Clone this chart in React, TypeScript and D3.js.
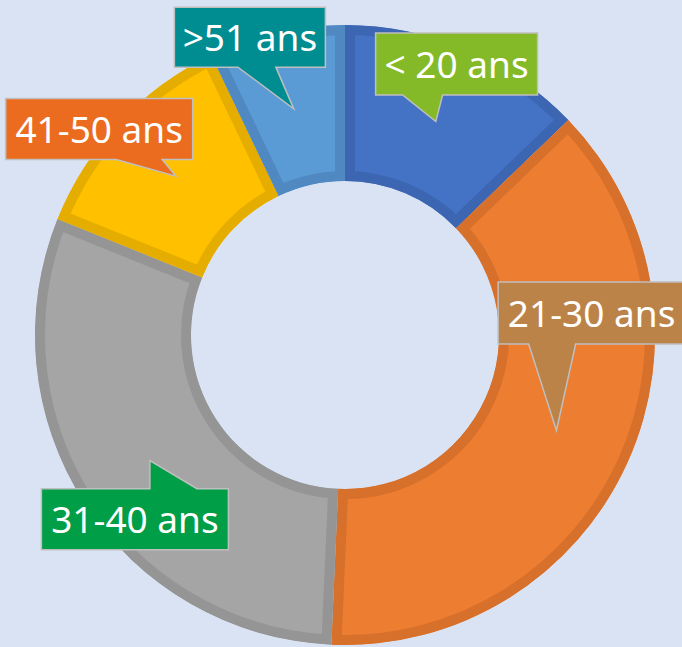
import React from "react";
import * as d3 from "d3";

// ---- data ----
const categories = ["< 20 ans", "21-30 ans", "31-40 ans", "41-50 ans", ">51 ans"];
const values = [12.8, 37.9, 30.4, 11.8, 7.1];
const sliceColors = ["#4472C4", "#ED7D31", "#A5A5A5", "#FFC000", "#5B9BD5"];
const sliceBorders = ["#3d66b2", "#d6702b", "#959595", "#e5ad00", "#5089c2"];
const labelColors = ["#84ba27", "#bc8349", "#009e47", "#ec6c1f", "#008d92"];

// ---- callout layout (offset of box centre from slice centroid, box size, pointer base rel. to box centre) ----
const calloutLayout = [
  { dx: 20.8, dy: -57.5, w: 162, h: 62, b1: -54, b2: -14, side: "bottom" },
  { dx: 35.2, dy: -117.5, w: 187, h: 62, b1: -63, b2: -16, side: "bottom" },
  { dx: -15, dy: 58.6, w: 187, h: 61, b1: 15, b2: 62, side: "top" },
  { dx: -76.7, dy: -47.2, w: 187, h: 61, b1: 17, b2: 63, side: "bottom" },
  { dx: -43.8, dy: -71.6, w: 151, h: 60, b1: -12, b2: 26, side: "bottom" },
];

const W = 682;
const H = 647;
const cx = 345;
const cy = 335;
const outerR = 310;
const innerR = 154;
const borderW = 10;

export default function App() {
  const pie = d3
    .pie<number>()
    .sort(null)
    .value((d) => d)
    .startAngle(0)
    .endAngle(2 * Math.PI);
  const arcs = pie(values);
  const arc = d3.arc<d3.PieArcDatum<number>>().innerRadius(innerR).outerRadius(outerR);

  return (
    <svg
      width={W}
      height={H}
      style={{ position: "absolute", left: 0, top: 0 }}
      xmlns="http://www.w3.org/2000/svg"
    >
      <rect x={0} y={0} width={W} height={H} fill="#dae3f3" />
      <defs>
        {arcs.map((a, i) => (
          <clipPath id={`clip-${i}`} key={i}>
            <path d={arc(a) || ""} />
          </clipPath>
        ))}
      </defs>
      <g transform={`translate(${cx},${cy})`}>
        {arcs.map((a, i) => (
          <path
            key={i}
            d={arc(a) || ""}
            fill={sliceColors[i]}
            stroke={sliceBorders[i]}
            strokeWidth={borderW * 2}
            strokeLinejoin="miter"
            clipPath={`url(#clip-${i})`}
          />
        ))}
        {arcs.map((a, i) => {
          const [tx, ty] = arc.centroid(a);
          const L = calloutLayout[i];
          const bx = tx + L.dx;
          const by = ty + L.dy;
          const x0 = bx - L.w / 2;
          const x1 = bx + L.w / 2;
          const y0 = by - L.h / 2;
          const y1 = by + L.h / 2;
          let d: string;
          if (L.side === "bottom") {
            d = `M${x0},${y0}H${x1}V${y1}H${bx + L.b2}L${tx},${ty}L${bx + L.b1},${y1}H${x0}Z`;
          } else {
            d = `M${x0},${y0}H${bx + L.b1}L${tx},${ty}L${bx + L.b2},${y0}H${x1}V${y1}H${x0}Z`;
          }
          return (
            <g key={`c-${i}`}>
              <path d={d} fill={labelColors[i]} stroke="#bfbfbf" strokeWidth={1.5} />
              <text
                x={bx}
                y={by + 14}
                textAnchor="middle"
                fill="#ffffff"
                fontFamily="'Noto Sans', 'Open Sans', sans-serif"
                fontSize={37}
              >
                {categories[i]}
              </text>
            </g>
          );
        })}
      </g>
    </svg>
  );
}
